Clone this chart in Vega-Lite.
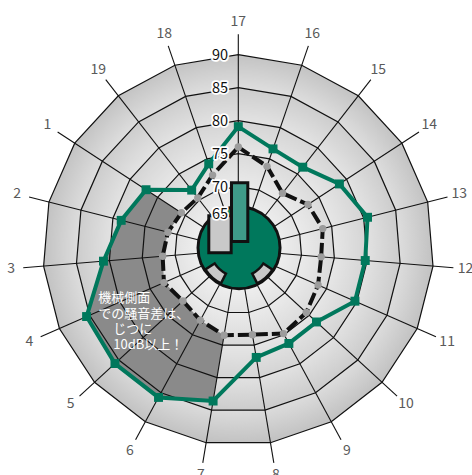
{
"$schema":"https://vega.github.io/schema/vega-lite/v6.json",
"width":472,"height":475,"padding":0,"autosize":{"type":"none"},
"background":"#ffffff",
"config":{"view":{"stroke":null}},
"datasets":{
 "rings":[
  {"ring":90,"k":[1,2,3,4,5,6,7,8,9,10,11,12,13,14,15,16,17,18,19]},
  {"ring":85,"k":[1,2,3,4,5,6,7,8,9,10,11,12,13,14,15,16,17,18,19]},
  {"ring":80,"k":[1,2,3,4,5,6,7,8,9,10,11,12,13,14,15,16,17,18,19]},
  {"ring":75,"k":[1,2,3,4,5,6,7,8,9,10,11,12,13,14,15,16,17,18,19]},
  {"ring":70,"k":[1,2,3,4,5,6,7,8,9,10,11,12,13,14,15,16,17,18,19]}
 ],
 "axes":[{"k":1},{"k":2},{"k":3},{"k":4},{"k":5},{"k":6},{"k":7},{"k":8},{"k":9},{"k":10},{"k":11},{"k":12},{"k":13},{"k":14},{"k":15},{"k":16},{"k":17},{"k":18},{"k":19}],
 "green":[
  {"k":17,"v":79.1},{"k":16,"v":76.6},{"k":15,"v":76.3},{"k":14,"v":78.7},{"k":13,"v":80.6},{"k":12,"v":79.7},{"k":11,"v":79.7},{"k":10,"v":76.5},{"k":9,"v":76.5},{"k":8,"v":76.9},{"k":7,"v":83.6},{"k":6,"v":85.8},{"k":5,"v":85.8},{"k":4,"v":85.5},{"k":3,"v":80.9},{"k":2,"v":78.7},{"k":1,"v":77.1},{"k":19,"v":71.9},{"k":18,"v":74.2}
 ],
 "black":[
  {"k":17,"v":76.0},{"k":16,"v":73.8},{"k":15,"v":71.3},{"k":14,"v":73.0},{"k":13,"v":73.6},{"k":12,"v":73.0},{"k":11,"v":73.6},{"k":10,"v":74.4},{"k":9,"v":74.8},{"k":8,"v":73.4},{"k":7,"v":73.5},{"k":6,"v":72.5},{"k":5,"v":71.8},{"k":4,"v":72.7},{"k":3,"v":71.9},{"k":2,"v":71.4},{"k":1,"v":70.7},{"k":19,"v":70.4},{"k":18,"v":72.4}
 ],
 "region":[
  {"k":1,"v":77.1},{"k":2,"v":78.7},{"k":3,"v":80.9},{"k":4,"v":85.5},{"k":5,"v":85.8},{"k":6,"v":85.8},{"k":7,"v":83.6},
  {"k":7,"v":73.5},{"k":6,"v":72.5},{"k":5,"v":71.8},{"k":4,"v":72.7},{"k":3,"v":71.9},{"k":2,"v":71.4},{"k":1,"v":70.7}
 ],
 "ringLabels":[{"label":"90","v":90},{"label":"85","v":85},{"label":"80","v":80},{"label":"75","v":75},{"label":"70","v":70}],
 "ringLabel65":[{"label":"65","v":65}],
 "bars":[{"bar":"gray","bottom":60.0,"top":65.6},{"bar":"teal","bottom":61.7,"top":70.6}],
 "note":[{"block":"a","lines":["機械側面","での騒音差は、"]},{"block":"b","lines":["じつに","10dB以上！"]}]
},
"encoding":{
 "x":{"field":"x","type":"quantitative","scale":{"domain":[-36.106,35.409],"nice":false,"zero":false},"axis":null},
 "y":{"field":"y","type":"quantitative","scale":{"domain":[-34.091,37.879],"nice":false,"zero":false},"axis":null}
},
"layer":[
 {"data":{"name":"rings"},"transform":[{"filter":"datum.ring==90"},{"flatten":["k"]},{"calculate":"((36-datum.k)%19)*2*PI/19","as":"t"},{"calculate":"(datum.ring-60.4)*sin(datum.t)","as":"x"},{"calculate":"(datum.ring-60.4)*cos(datum.t)","as":"y"}],
  "mark":{"type":"line","interpolate":"linear-closed","strokeWidth":0,"fill":{"gradient":"radial","x1":0.5,"y1":0.5,"r1":0,"x2":0.5,"y2":0.5,"r2":0.5,"stops":[{"offset":0,"color":"#dedede"},{"offset":0.83,"color":"#dcdcdc"},{"offset":1,"color":"#c2c2c2"}]}},
  "encoding":{"order":{"field":"t","type":"quantitative"}}},
 {"data":{"name":"rings"},"transform":[{"filter":"datum.ring==85"},{"flatten":["k"]},{"calculate":"((36-datum.k)%19)*2*PI/19","as":"t"},{"calculate":"(datum.ring-60.4)*sin(datum.t)","as":"x"},{"calculate":"(datum.ring-60.4)*cos(datum.t)","as":"y"}],
  "mark":{"type":"line","interpolate":"linear-closed","strokeWidth":0,"fill":{"gradient":"radial","x1":0.5,"y1":0.5,"r1":0,"x2":0.5,"y2":0.5,"r2":0.5,"stops":[{"offset":0,"color":"#e3e3e3"},{"offset":0.8,"color":"#e1e1e1"},{"offset":1,"color":"#cccccc"}]}},
  "encoding":{"order":{"field":"t","type":"quantitative"}}},
 {"data":{"name":"rings"},"transform":[{"filter":"datum.ring==80"},{"flatten":["k"]},{"calculate":"((36-datum.k)%19)*2*PI/19","as":"t"},{"calculate":"(datum.ring-60.4)*sin(datum.t)","as":"x"},{"calculate":"(datum.ring-60.4)*cos(datum.t)","as":"y"}],
  "mark":{"type":"line","interpolate":"linear-closed","strokeWidth":0,"fill":{"gradient":"radial","x1":0.5,"y1":0.5,"r1":0,"x2":0.5,"y2":0.5,"r2":0.5,"stops":[{"offset":0,"color":"#e8e8e8"},{"offset":0.74,"color":"#e6e6e6"},{"offset":1,"color":"#d4d4d4"}]}},
  "encoding":{"order":{"field":"t","type":"quantitative"}}},
 {"data":{"name":"rings"},"transform":[{"filter":"datum.ring==75"},{"flatten":["k"]},{"calculate":"((36-datum.k)%19)*2*PI/19","as":"t"},{"calculate":"(datum.ring-60.4)*sin(datum.t)","as":"x"},{"calculate":"(datum.ring-60.4)*cos(datum.t)","as":"y"}],
  "mark":{"type":"line","interpolate":"linear-closed","strokeWidth":0,"fill":{"gradient":"radial","x1":0.5,"y1":0.5,"r1":0,"x2":0.5,"y2":0.5,"r2":0.5,"stops":[{"offset":0,"color":"#ececec"},{"offset":0.66,"color":"#eaeaea"},{"offset":1,"color":"#dadada"}]}},
  "encoding":{"order":{"field":"t","type":"quantitative"}}},
 {"data":{"name":"rings"},"transform":[{"filter":"datum.ring==70"},{"flatten":["k"]},{"calculate":"((36-datum.k)%19)*2*PI/19","as":"t"},{"calculate":"(datum.ring-60.4)*sin(datum.t)","as":"x"},{"calculate":"(datum.ring-60.4)*cos(datum.t)","as":"y"}],
  "mark":{"type":"line","interpolate":"linear-closed","strokeWidth":0,"fill":{"gradient":"radial","x1":0.5,"y1":0.5,"r1":0,"x2":0.5,"y2":0.5,"r2":0.5,"stops":[{"offset":0,"color":"#f3f3f3"},{"offset":0.6,"color":"#efefef"},{"offset":1,"color":"#e3e3e3"}]}},
  "encoding":{"order":{"field":"t","type":"quantitative"}}},
 {"data":{"name":"region"},"transform":[{"window":[{"op":"row_number","as":"i"}]},{"calculate":"((36-datum.k)%19)*2*PI/19","as":"t"},{"calculate":"(datum.v-60.4)*sin(datum.t)","as":"x"},{"calculate":"(datum.v-60.4)*cos(datum.t)","as":"y"}],
  "mark":{"type":"line","interpolate":"linear-closed","strokeWidth":0,"fill":"#8a8a8a"},
  "encoding":{"order":{"field":"i","type":"quantitative"}}},
 {"data":{"name":"rings"},"transform":[{"flatten":["k"]},{"calculate":"((36-datum.k)%19)*2*PI/19","as":"t"},{"calculate":"(datum.ring-60.4)*sin(datum.t)","as":"x"},{"calculate":"(datum.ring-60.4)*cos(datum.t)","as":"y"}],
  "mark":{"type":"line","interpolate":"linear-closed","stroke":"#111111","strokeWidth":1.2},
  "encoding":{"detail":{"field":"ring","type":"nominal"},"order":{"field":"t","type":"quantitative"}}},
 {"data":{"name":"axes"},"transform":[{"calculate":"((36-datum.k)%19)*2*PI/19","as":"t"},{"calculate":"0","as":"x"},{"calculate":"0","as":"y"},{"calculate":"32.7*sin(datum.t)","as":"x2"},{"calculate":"32.7*cos(datum.t)","as":"y2"}],
  "mark":{"type":"rule","stroke":"#111111","strokeWidth":1.1},
  "encoding":{"x2":{"field":"x2"},"y2":{"field":"y2"}}},
 {"data":{"name":"black"},"transform":[{"calculate":"((36-datum.k)%19)*2*PI/19","as":"t"},{"calculate":"(datum.v-60.4)*sin(datum.t)","as":"x"},{"calculate":"(datum.v-60.4)*cos(datum.t)","as":"y"}],
  "mark":{"type":"line","interpolate":"linear-closed","stroke":"#111111","strokeWidth":4,"strokeDash":[13,4]},
  "encoding":{"order":{"field":"t","type":"quantitative"}}},
 {"data":{"name":"black"},"transform":[{"calculate":"((36-datum.k)%19)*2*PI/19","as":"t"},{"calculate":"(datum.v-60.4)*sin(datum.t)","as":"x"},{"calculate":"(datum.v-60.4)*cos(datum.t)","as":"y"}],
  "mark":{"type":"point","shape":"circle","filled":true,"fill":"#9c9c9c","opacity":1,"size":55,"strokeWidth":0}},
 {"data":{"name":"green"},"transform":[{"calculate":"((36-datum.k)%19)*2*PI/19","as":"t"},{"calculate":"(datum.v-60.4)*sin(datum.t)","as":"x"},{"calculate":"(datum.v-60.4)*cos(datum.t)","as":"y"}],
  "mark":{"type":"line","interpolate":"linear-closed","stroke":"#00785c","strokeWidth":4},
  "encoding":{"order":{"field":"t","type":"quantitative"}}},
 {"data":{"name":"green"},"transform":[{"calculate":"((36-datum.k)%19)*2*PI/19","as":"t"},{"calculate":"(datum.v-60.4)*sin(datum.t)","as":"x"},{"calculate":"(datum.v-60.4)*cos(datum.t)","as":"y"}],
  "mark":{"type":"point","shape":"square","filled":true,"fill":"#00785c","opacity":1,"size":80,"strokeWidth":0}},
 {"data":{"values":[{"part":"hub"}]},"transform":[{"calculate":"0.11","as":"x"},{"calculate":"0.35","as":"y"}],
  "mark":{"type":"arc","theta":0,"theta2":6.2832,"outerRadius":41,"fill":"#00785c","stroke":"#111111","strokeWidth":3}},
 {"data":{"values":[{"part":"left"},{"part":"right"}]},"transform":[{"calculate":"0.11","as":"x"},{"calculate":"0.35","as":"y"},{"calculate":"datum.part=='left'?3.61:2.15","as":"a0"},{"calculate":"datum.part=='left'?4.14:2.67","as":"a1"}],
  "mark":{"type":"arc","innerRadius":29,"outerRadius":40,"fill":"#c8c8c8","stroke":"#111111","strokeWidth":2.5},
  "encoding":{"theta":{"field":"a0","type":"quantitative","scale":null},"theta2":{"field":"a1"}}},
 {"data":{"name":"bars"},"transform":[{"calculate":"datum.bar=='gray'?-4.47:-1.03","as":"x"},{"calculate":"datum.bar=='gray'?-1.08:1.44","as":"x2"},{"calculate":"datum.top-60.4","as":"y"},{"calculate":"datum.bottom-60.4","as":"y2"}],
  "mark":{"type":"rect","stroke":"#111111","strokeWidth":3},
  "encoding":{"x2":{"field":"x2"},"y2":{"field":"y2"},"fill":{"field":"bar","type":"nominal","scale":{"domain":["gray","teal"],"range":["#c9c9c9","#3f9b88"]},"legend":null},"order":{"field":"bar"}}},
 {"data":{"name":"ringLabels"},"transform":[{"calculate":"-1.56","as":"x"},{"calculate":"datum.v-60.4","as":"y"}],
  "mark":{"type":"text","align":"right","baseline":"middle","dy":1.5,"fontSize":14.5,"font":"Noto Sans CJK JP","fill":"#ffffff","stroke":"#ffffff","strokeWidth":3.5,"strokeJoin":"round"},
  "encoding":{"text":{"field":"label"}}},
 {"data":{"name":"ringLabels"},"transform":[{"calculate":"-1.56","as":"x"},{"calculate":"datum.v-60.4","as":"y"}],
  "mark":{"type":"text","align":"right","baseline":"middle","dy":1.5,"fontSize":14.5,"font":"Noto Sans CJK JP","fill":"#111111"},
  "encoding":{"text":{"field":"label"}}},
 {"data":{"name":"ringLabel65"},"transform":[{"calculate":"-1.56","as":"x"},{"calculate":"datum.v-60.4","as":"y"}],
  "mark":{"type":"text","align":"right","baseline":"middle","dy":-4.5,"fontSize":14.5,"font":"Noto Sans CJK JP","fill":"#ffffff","stroke":"#ffffff","strokeWidth":3.5,"strokeJoin":"round"},
  "encoding":{"text":{"field":"label"}}},
 {"data":{"name":"ringLabel65"},"transform":[{"calculate":"-1.56","as":"x"},{"calculate":"datum.v-60.4","as":"y"}],
  "mark":{"type":"text","align":"right","baseline":"middle","dy":-4.5,"fontSize":14.5,"font":"Noto Sans CJK JP","fill":"#111111"},
  "encoding":{"text":{"field":"label"}}},
 {"data":{"name":"axes"},"transform":[{"calculate":"((36-datum.k)%19)*2*PI/19","as":"t"},{"calculate":"34.55*sin(datum.t)","as":"x"},{"calculate":"34.55*cos(datum.t)","as":"y"}],
  "mark":{"type":"text","align":"center","baseline":"middle","fontSize":14,"font":"Noto Sans CJK JP","fill":"#5a5a5a"},
  "encoding":{"text":{"field":"k","type":"nominal"}}},
 {"data":{"name":"note"},"transform":[{"calculate":"datum.block=='a'?-21.21:-18.94","as":"x"},{"calculate":"datum.block=='a'?-6.38:-11.1","as":"y"}],
  "mark":{"type":"text","align":"left","baseline":"top","fontSize":13,"lineHeight":15.5,"font":"Noto Sans CJK JP","fill":"#ffffff"},
  "encoding":{"text":{"field":"lines"}}}
]
}
